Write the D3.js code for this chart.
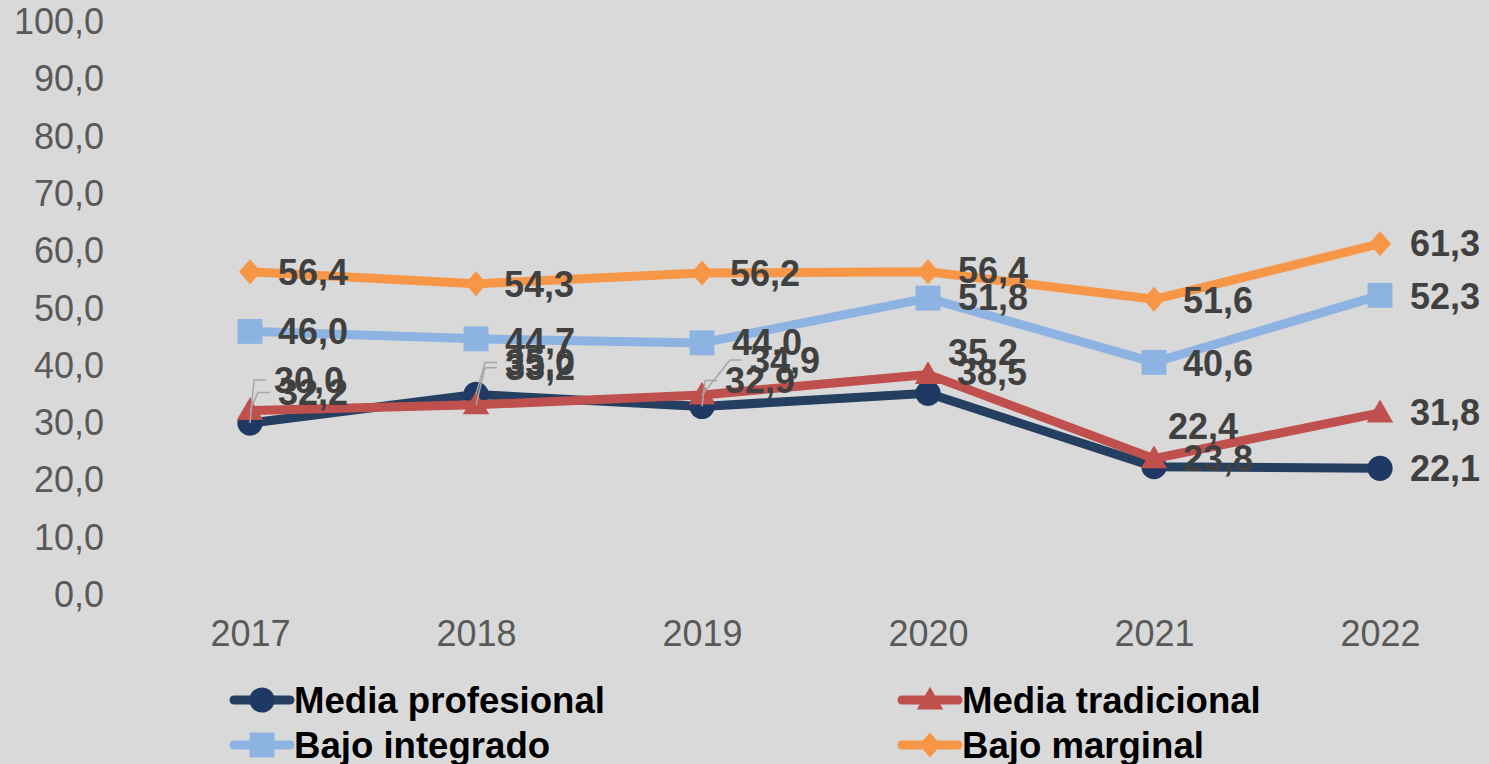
<!DOCTYPE html>
<html>
<head>
<meta charset="utf-8">
<script src="https://cdn.jsdelivr.net/npm/d3@7"></script>
<style>
  html, body { margin: 0; padding: 0; background: #d9d9d9; }
  svg { display: block; font-family: "Liberation Sans", Arial, sans-serif; }
</style>
</head>
<body>
<svg width="1489" height="764"></svg>
<script>
// data
const years = ["2017", "2018", "2019", "2020", "2021", "2022"];
const seriesNames = ["Media profesional", "Media tradicional", "Bajo integrado", "Bajo marginal"];
const mediaProfesional = [30.0, 35.0, 32.9, 35.2, 22.4, 22.1];
const mediaTradicional = [32.2, 33.2, 34.9, 38.5, 23.8, 31.8];
const bajoIntegrado = [46.0, 44.7, 44.0, 51.8, 40.6, 52.3];
const bajoMarginal = [56.4, 54.3, 56.2, 56.4, 51.6, 61.3];
const yTicks = [0, 10, 20, 30, 40, 50, 60, 70, 80, 90, 100];

// label nudges [dx, dy, leader] (px), as Excel placed them
const labelNudge = [
  [[24,-43,1],[29,-32,1],[23,-26,1],[20,-41,0],[14,-40,0],[30,0,0]],
  [[28,-18,1],[29,-37,1],[48,-35,1],[29,-2,0],[29,0,0],[30,0,0]],
  [[28,0,0],[29,3,0],[30,0,0],[30,-1,0],[29,1,0],[30,1,0]],
  [[28,1,0],[28,1,0],[28,0,0],[30,-1,0],[29,1,0],[30,0,0]]
];

const colors = ["#1f3864", "#c0504d", "#8db3e2", "#f79646"];
const lineColors = ["#243f60", "#c0504d", "#8db3e2", "#f79646"];

// wide diamond like Excel's
const excelDiamond = {
  draw(c) { c.moveTo(0, -12.5); c.lineTo(11, 0); c.lineTo(0, 12.5); c.lineTo(-11, 0); c.closePath(); }
};
const symbols = [d3.symbolCircle, d3.symbolTriangle, d3.symbolSquare, excelDiamond];
const symSizes = [500, 300, 620, 300];

const allValues = [mediaProfesional, mediaTradicional, bajoIntegrado, bajoMarginal];

var svg = d3.select("svg");
var fmt = v => d3.format(".1f")(v).replace(".", ",");

var x = d3.scalePoint().domain(years).range([250, 1380]);
var y = d3.scaleLinear().domain([0, 100]).range([595, 22]);

// y axis
var yAxis = svg.append("g").attr("transform", "translate(104,0)")
  .call(d3.axisLeft(y).tickValues(yTicks).tickFormat(fmt).tickSize(0).tickPadding(0));
yAxis.select(".domain").remove();
yAxis.selectAll("text").attr("font-size", 36).attr("fill", "#595959")
  .attr("font-family", "Liberation Sans, Arial, sans-serif");

// x axis
var xAxis = svg.append("g").attr("transform", "translate(0,620)")
  .call(d3.axisBottom(x).tickSize(0).tickPadding(0));
xAxis.select(".domain").remove();
xAxis.selectAll("text").attr("font-size", 36).attr("fill", "#595959")
  .attr("font-family", "Liberation Sans, Arial, sans-serif");

var line = d3.line().x((d, i) => x(years[i])).y(d => y(d));

// lines and markers
allValues.forEach((vals, s) => {
  var g = svg.append("g").attr("class", "series");
  g.append("path").attr("d", line(vals)).attr("fill", "none")
    .attr("stroke", lineColors[s]).attr("stroke-width", 9).attr("stroke-linejoin", "round");
  g.selectAll("path.marker").data(vals).enter().append("path").attr("class", "marker")
    .attr("d", d3.symbol().type(symbols[s]).size(symSizes[s]))
    .attr("transform", (d, i) => "translate(" + x(years[i]) + "," + (y(d) + (s === 1 ? 2 : 0)) + ")")
    .attr("fill", colors[s]);
});

// leader lines + labels
var lab = svg.append("g");
allValues.forEach((vals, s) => {
  vals.forEach((v, i) => {
    var px = x(years[i]), py = y(v);
    var nd = labelNudge[s][i];
    var lx = px + nd[0], ly = py + nd[1];
    if (nd[2]) {
      lab.append("polyline")
        .attr("points", [[px, py], [lx - 20, ly], [lx - 8, ly]].map(p => p.join(",")).join(" "))
        .attr("fill", "none").attr("stroke", "#a6a6a6").attr("stroke-width", 1.5);
    }
  });
});
allValues.forEach((vals, s) => {
  lab.selectAll(null).data(vals).enter().append("text")
    .attr("x", (d, i) => x(years[i]) + labelNudge[s][i][0])
    .attr("y", (d, i) => y(d) + labelNudge[s][i][1])
    .attr("dy", "0.35em")
    .attr("font-size", 36).attr("font-weight", "bold").attr("fill", "#404040")
    .text(fmt);
});

// legend
var legendPos = [[262, 700], [930, 700], [262, 745], [930, 745]];
var legend = svg.selectAll("g.legend").data(seriesNames).enter().append("g")
  .attr("class", "legend")
  .attr("transform", (d, i) => "translate(" + legendPos[i][0] + "," + legendPos[i][1] + ")");
legend.append("line").attr("x1", -28).attr("x2", 28)
  .attr("stroke", (d, i) => lineColors[i]).attr("stroke-width", 9).attr("stroke-linecap", "round");
legend.append("path")
  .attr("d", (d, i) => d3.symbol().type(symbols[i]).size(symSizes[i])())
  .attr("transform", (d, i) => (i === 1 ? "translate(0,2)" : ""))
  .attr("fill", (d, i) => colors[i]);
legend.append("text").attr("x", 32).attr("dy", "0.35em")
  .attr("font-size", 36.6).attr("font-weight", "bold").attr("fill", "#000")
  .text(d => d);
</script>
</body>
</html>
